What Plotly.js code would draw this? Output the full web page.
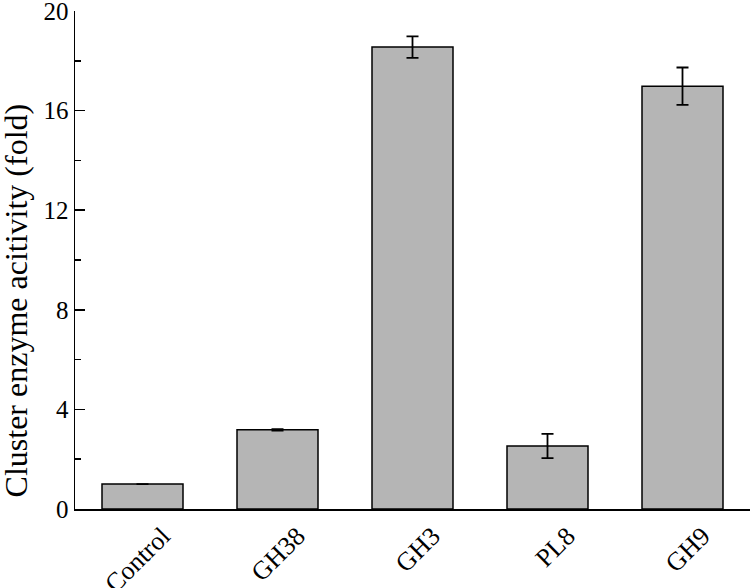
<!DOCTYPE html>
<html><head><meta charset="utf-8">
<script src="https://cdn.plot.ly/plotly-3.0.1.min.js"></script>
<style>html,body{margin:0;padding:0;background:#fff}</style>
</head><body><div id="chart" style="width:750px;height:588px"></div>
<script>
const categories = ["Control", "GH38", "GH3", "PL8", "GH9"];
const values = [1.0, 3.18, 18.55, 2.53, 16.98];
const errors = [0, 0.03, 0.43, 0.49, 0.75];
const yTicks = [0, 4, 8, 12, 16, 20];
const yTitle = "Cluster enzyme acitivity (fold)";

const trace = {
  type: "bar",
  x: categories,
  y: values,
  width: 0.6,
  marker: {color: "#b5b5b5", line: {color: "#000", width: 1.5}},
  error_y: {type: "data", array: errors, visible: true, color: "#000", thickness: 1.8, width: 6}
};
const layout = {
  width: 750, height: 588,
  margin: {l: 75, r: 0, t: 11, b: 79},
  paper_bgcolor: "#fff", plot_bgcolor: "#fff",
  showlegend: false,
  font: {family: "Liberation Serif, Times New Roman, serif", color: "#000", size: 25},
  xaxis: {
    type: "category", range: [-0.5, 4.5],
    showline: true, linecolor: "#000", linewidth: 1.5,
    ticks: "", tickangle: -45, showgrid: false, zeroline: false,
    tickfont: {size: 26}, ticklabelshift: 20, ticklabeloverflow: "allow"
  },
  yaxis: {
    range: [0, 20], tickvals: yTicks, ticktext: yTicks.map(String),
    showline: true, linecolor: "#000", linewidth: 1.5,
    ticks: "inside", ticklen: 10, tickwidth: 1.5, tickcolor: "#000",
    minor: {dtick: 2, ticks: "inside", ticklen: 6, tickwidth: 1.5, tickcolor: "#000"},
    showgrid: false, zeroline: false,
    tickfont: {size: 25}, ticklabeloverflow: "allow"
  },
  annotations: [{
    text: yTitle, textangle: -90, showarrow: false,
    xref: "paper", yref: "paper", x: -0.088, y: 0.418,
    xanchor: "center", yanchor: "middle",
    font: {size: 32}
  }]
};
Plotly.newPlot("chart", [trace], layout, {displayModeBar: false, staticPlot: true});
</script></body></html>
